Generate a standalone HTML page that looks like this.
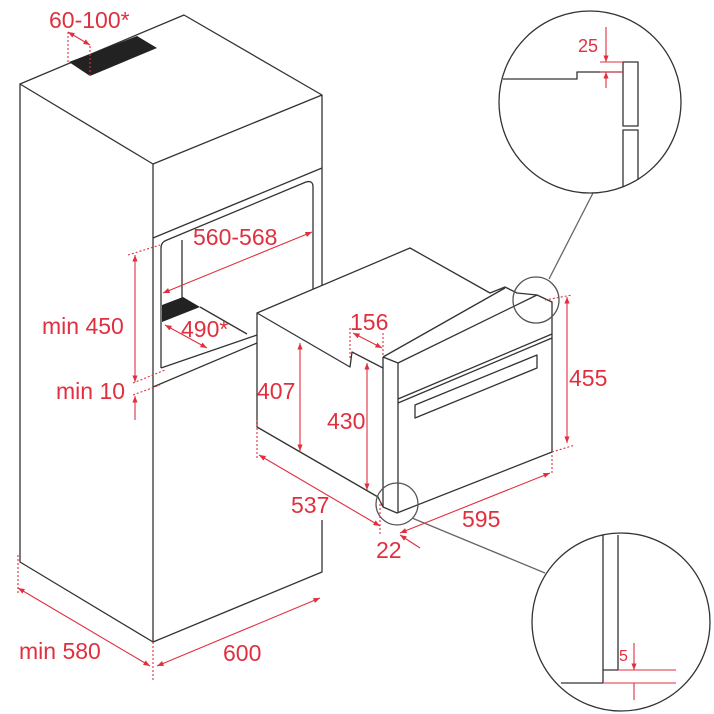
<!DOCTYPE html>
<html><head><meta charset="utf-8"><style>
html,body{margin:0;padding:0;background:#fff;width:714px;height:714px;overflow:hidden}
svg{display:block}
text{font-family:"Liberation Sans",sans-serif;fill:#e0303f;font-size:23px}
</style></head><body>
<svg width="714" height="714" viewBox="0 0 714 714" xmlns="http://www.w3.org/2000/svg">
<defs>
<marker id="a" viewBox="0 0 10 10" refX="10" refY="5" markerWidth="6" markerHeight="6" orient="auto-start-reverse"><path d="M0,1 L10,5 L0,9 z" fill="#e0303f"/></marker>
</defs>
<g fill="none" stroke="#333" stroke-width="1.3" stroke-linejoin="round">
<!-- cabinet -->
<path d="M20,84 L184,15 L322,95 L153,164 Z" fill="#fff"/>
<path d="M20,84 L20,562 L153,642 L322,572 L322,520 M322,455 L322,95"/>
<path d="M153,164 L153,642"/>
<path d="M153,238 L322,168"/>
<path d="M161,368 L161,248 Q161,242 167,240 L306,182 Q313,180 313,187 L313,290"/>
<path d="M182,240 L182,298"/>
<path d="M161,368 L257,335"/>
<path d="M153,387 L257,343"/>
<path d="M200,307 L247,334"/>
<!-- oven -->
<path d="M257,313 L410,248 L490,293 L505,287 L517,293 L537,295 L552,302 L552,452 L397,513 L383,507 L378,497 L257,427 Z" fill="#fff"/>
<path d="M257,313 L350,367 L352,352 L383,368"/>
<path d="M383,357 L505,288"/>
<path d="M383,357 L398,363 L537,295"/>
<path d="M398,363 L398,513"/>
<path d="M383,357 L383,507"/>
<path d="M398,399 L552,334"/>
<path d="M398,403 L552,338"/>
<path d="M415,405 L537,355 L537,368 L415,418 Z"/>
<circle cx="536" cy="300" r="23" stroke="#555"/>
<circle cx="397" cy="504" r="21" stroke="#555"/>
<path d="M593,193 L549,279" stroke="#666"/>
<path d="M412,518 L545,573" stroke="#666"/>
<!-- detail top -->
<circle cx="590" cy="102" r="91"/>
<path d="M503,79 L577,79 L577,72 L623,72"/>
<rect x="623" y="62" width="15" height="64"/>
<path d="M623,187 L623,130 L638,130 L638,180"/>
<!-- detail bottom -->
<circle cx="621" cy="622" r="89"/>
<path d="M603,535 L603,683 M618,535 L618,670 L603,670 M561,683 L603,683"/>
</g>
<polygon points="69,62 137,36 157,48 90,76" fill="#222"/>
<polygon points="162,305 183,297 200,307 162,322" fill="#222"/>
<g fill="none" stroke="#e0303f" stroke-width="1.1">
<path d="M68,32 L68,62 M90,46 L90,76 M128,255 L160,245 M133,383 L165,370 M133,395 L160,385 M18,555 L18,595 M153,642 L153,680 M350,328 L350,360 M383,333 L383,357 M257,420 L257,460 M380,500 L380,535 M552,455 L552,475 M545,300 L572,295 M552,452 L575,445" stroke-dasharray="2,2"/>
<path d="M68,32 L90,45" marker-start="url(#a)" marker-end="url(#a)"/>
<path d="M163,293 L312,232" marker-start="url(#a)" marker-end="url(#a)"/>
<path d="M135,255 L135,382" marker-start="url(#a)" marker-end="url(#a)"/>
<path d="M165,325 L207,348" marker-start="url(#a)" marker-end="url(#a)"/>
<path d="M135,420 L135,396" marker-end="url(#a)"/>
<path d="M18,588 L150,666" marker-start="url(#a)" marker-end="url(#a)"/>
<path d="M157,666 L320,598" marker-start="url(#a)" marker-end="url(#a)"/>
<path d="M300,343 L300,451" marker-start="url(#a)" marker-end="url(#a)"/>
<path d="M367,363 L367,490" marker-start="url(#a)" marker-end="url(#a)"/>
<path d="M353,333 L382,348" marker-start="url(#a)" marker-end="url(#a)"/>
<path d="M567,297 L567,443" marker-start="url(#a)" marker-end="url(#a)"/>
<path d="M259,455 L380,526" marker-start="url(#a)" marker-end="url(#a)"/>
<path d="M400,533 L550,473" marker-start="url(#a)" marker-end="url(#a)"/>
<path d="M420,548 L400,535" marker-end="url(#a)"/>
<path d="M606,27 L606,62" marker-end="url(#a)"/>
<path d="M606,88 L606,72" marker-end="url(#a)"/>
<path d="M600,62 L623,62 M600,72 L623,72"/>
<path d="M618,670 L676,670 M603,683 L676,683"/>
<path d="M634,643 L634,670" marker-end="url(#a)"/>
<path d="M634,683 L634,700"/>
</g>
<text x="49" y="28">60-100*</text>
<text x="193" y="245">560-568</text>
<text x="42" y="334">min 450</text>
<text x="181" y="337">490*</text>
<text x="56" y="399">min 10</text>
<text x="19" y="659">min 580</text>
<text x="223" y="661">600</text>
<text x="257" y="399">407</text>
<text x="327" y="429">430</text>
<text x="350" y="330">156</text>
<text x="569" y="386">455</text>
<text x="291" y="513">537</text>
<text x="462" y="527">595</text>
<text x="376" y="558">22</text>
<text x="578" y="52" style="font-size:18px">25</text>
<text x="619" y="661" style="font-size:16px">5</text>
</svg>
</body></html>
